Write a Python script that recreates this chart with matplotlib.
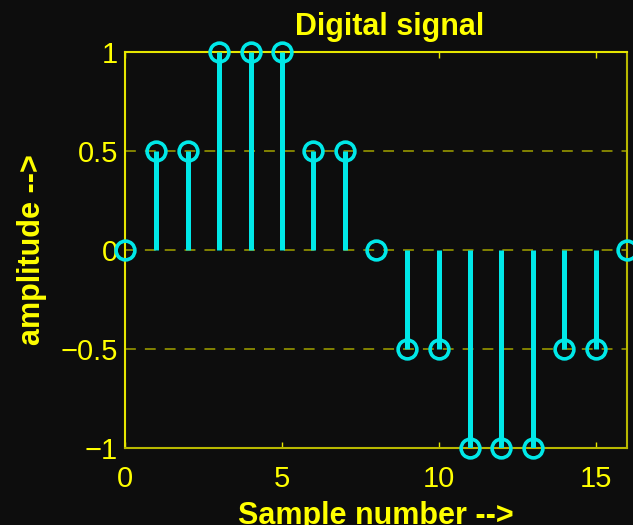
import matplotlib
matplotlib.use("Agg")
import matplotlib.pyplot as plt

# sample index and quantised amplitude
samples = list(range(17))
amplitude = [0, 0.5, 0.5, 1, 1, 1, 0.5, 0.5, 0, -0.5, -0.5, -1, -1, -1, -0.5, -0.5, 0]
x_ticks = [0, 5, 10, 15]
y_ticks = [-1, -0.5, 0, 0.5, 1]
y_tick_labels = ["\u22121", "\u22120.5", "0", "0.5", "1"]

BG = "#0d0d0d"
YELLOW = "#ffff00"
AXIS = "#e6e600"
AXIS_DIM = "#b8b800"
GRID = "#8c8c00"
CYAN = "#00e8e8"

plt.rcParams["font.family"] = ["Liberation Sans", "DejaVu Sans"]

fig = plt.figure(figsize=(6.33, 5.25), dpi=100, facecolor=BG)
ax = fig.add_axes([0.1975, 0.1467, 0.793, 0.754], facecolor=BG)

# dashed grid at the inner y ticks
for yv in [-0.5, 0, 0.5]:
    ax.axhline(yv, color=GRID, linestyle=(0, (6, 5)), linewidth=1.3, zorder=1)

markerline, stemlines, baseline = ax.stem(samples, amplitude, basefmt=" ")
plt.setp(stemlines, color=CYAN, linewidth=3.6, zorder=3)
plt.setp(markerline, color=CYAN, marker="o", markersize=13.5,
         markerfacecolor="none", markeredgewidth=2.6, zorder=4, clip_on=False)

ax.set_xlim(0, 16)
ax.set_ylim(-1, 1)
ax.set_xticks(x_ticks)
ax.set_yticks(y_ticks)
ax.set_yticklabels(y_tick_labels)

for name, s in ax.spines.items():
    s.set_color(AXIS if name in ("top", "left") else AXIS_DIM)
    s.set_linewidth(1.5)

ax.tick_params(axis="both", direction="in", length=4, width=1, color=AXIS,
               labelcolor=YELLOW, labelsize=21, top=True, right=True)
ax.tick_params(axis="x", pad=12)
ax.tick_params(axis="y", length=0, pad=5)

ax.set_title("Digital signal", color=YELLOW, fontsize=22, fontweight="bold",
             pad=12, x=0.528)
ax.set_xlabel("Sample number -->", color=YELLOW, fontsize=22, fontweight="bold",
              labelpad=6)
ax.set_ylabel("amplitude -->", color=YELLOW, fontsize=22, fontweight="bold",
              labelpad=10)

fig.savefig("out.png", dpi=100, facecolor=BG)
